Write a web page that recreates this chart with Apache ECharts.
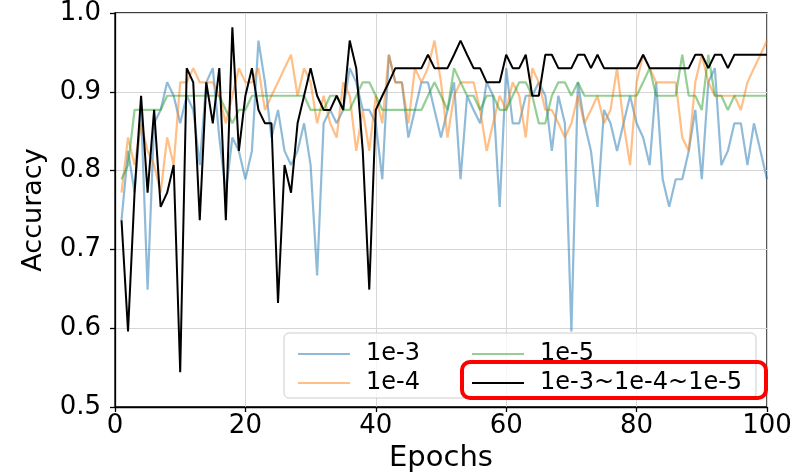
<!DOCTYPE html>
<html>
<head>
<meta charset="utf-8">
<script src="https://cdn.jsdelivr.net/npm/echarts@6/dist/echarts.min.js"></script>
<style>
html,body{margin:0;padding:0;background:#fff;}
#chart{width:799px;height:472px;}
</style>
</head>
<body>
<div id="chart"></div>
<script>
const epochs = [1,2,3,4,5,6,7,8,9,10,11,12,13,14,15,16,17,18,19,20,
21,22,23,24,25,26,27,28,29,30,31,32,33,34,35,36,37,38,39,40,
41,42,43,44,45,46,47,48,49,50,51,52,53,54,55,56,57,58,59,60,
61,62,63,64,65,66,67,68,69,70,71,72,73,74,75,76,77,78,79,80,
81,82,83,84,85,86,87,88,89,90,91,92,93,94,95,96,97,98,99,100];

const seriesNames = ['1e-3', '1e-4', '1e-5', '1e-3~1e-4~1e-5'];

const acc_1e3 = [
.737,.825,.772,.877,.649,.860,.877,.912,.895,.860,
.895,.877,.807,.912,.930,.842,.772,.842,.825,.789,
.825,.965,.912,.842,.877,.825,.807,.825,.860,.807,
.667,.860,.877,.860,.877,.930,.912,.877,.877,.860,
.789,.947,.912,.912,.842,.877,.912,.912,.877,.842,
.877,.912,.789,.895,.877,.860,.912,.895,.754,.930,
.860,.860,.895,.895,.912,.895,.825,.895,.860,.596,
.912,.860,.825,.754,.877,.860,.825,.860,.895,.860,
.842,.807,.912,.789,.754,.789,.789,.825,.877,.789,
.912,.930,.807,.825,.860,.860,.807,.860,.825,.789];

const acc_1e4 = [
.772,.842,.807,.860,.825,.807,.772,.842,.807,.912,
.912,.930,.912,.912,.912,.895,.860,.895,.930,.912,
.912,.930,.877,.895,.912,.930,.947,.895,.930,.912,
.860,.895,.860,.842,.912,.895,.825,.877,.825,.895,
.860,.947,.912,.912,.860,.930,.912,.930,.965,.912,
.842,.895,.912,.912,.912,.877,.825,.860,.895,.877,
.912,.895,.842,.930,.912,.877,.877,.860,.842,.860,
.895,.860,.877,.895,.860,.877,.930,.860,.807,.912,
.947,.930,.912,.912,.912,.912,.842,.825,.912,.947,
.912,.895,.895,.895,.895,.877,.912,.930,.947,.965];

const acc_1e5 = [
.789,.807,.877,.877,.877,.877,.877,.895,.895,.895,
.895,.895,.895,.895,.895,.895,.877,.860,.877,.877,
.895,.895,.895,.895,.895,.895,.895,.895,.895,.877,
.877,.877,.895,.895,.877,.877,.895,.912,.912,.895,
.877,.877,.877,.877,.877,.877,.877,.895,.912,.895,
.877,.930,.912,.895,.895,.877,.895,.895,.877,.877,
.895,.912,.912,.895,.860,.860,.895,.912,.912,.895,
.912,.895,.895,.895,.895,.895,.895,.895,.895,.895,
.912,.930,.895,.895,.895,.895,.947,.895,.895,.877,
.947,.895,.895,.877,.895,.895,.895,.895,.895,.895];

const acc_mix = [
.737,.596,.772,.895,.772,.877,.754,.772,.807,.544,
.930,.912,.737,.912,.860,.930,.737,.982,.825,.895,
.930,.877,.860,.860,.632,.807,.772,.860,.895,.930,
.895,.877,.877,.895,.877,.965,.930,.825,.649,.877,
.895,.912,.930,.930,.930,.930,.930,.947,.930,.930,
.930,.947,.965,.947,.930,.930,.912,.912,.912,.947,
.930,.930,.947,.895,.895,.947,.947,.930,.930,.930,
.947,.947,.930,.947,.930,.930,.930,.930,.930,.930,
.947,.930,.930,.930,.930,.930,.930,.930,.947,.947,
.930,.947,.947,.930,.947,.947,.947,.947,.947,.947];

const xTicks = [0, 20, 40, 60, 80, 100];
const yTicks = [0.5, 0.6, 0.7, 0.8, 0.9, 1.0];

const colors = ['#1f77b4', '#ff7f0e', '#2ca02c', '#000000'];
const legendColors = ['rgba(31,119,180,0.5)', 'rgba(255,127,14,0.5)', 'rgba(44,160,44,0.5)', '#000000'];
const opacities = [0.5, 0.5, 0.5, 1];
const allData = [acc_1e3, acc_1e4, acc_1e5, acc_mix];

const FONT = 'DejaVu Sans';

const series = allData.map((vals, i) => ({
  name: seriesNames[i],
  type: 'line',
  data: epochs.map((e, j) => [e, vals[j]]),
  symbol: 'none',
  showSymbol: false,
  animation: false,
  z: 2 + i * 0.01,
  lineStyle: { color: colors[i], width: i === 3 ? 2 : 2.2, opacity: opacities[i] },
  itemStyle: { color: colors[i], opacity: opacities[i] },
  emphasis: { disabled: true }
}));

const legendItem = i => ({ name: seriesNames[i], icon: 'rect', itemStyle: { color: legendColors[i], opacity: 1 } });

const legendCommon = {
  orient: 'vertical', itemWidth: 52, itemHeight: 2.2, itemGap: 5, selectedMode: false, z: 10,
  textStyle: { fontFamily: FONT, fontSize: 24, color: '#000', lineHeight: 24, padding: [0, 0, 0, 11] }
};

const chart = echarts.init(document.getElementById('chart'), null, { renderer: 'canvas' });
chart.setOption({
  animation: false,
  backgroundColor: '#ffffff',
  grid: { left: 115, right: 32, top: 13, bottom: 65, containLabel: false, outerBoundsMode: 'none',
          show: true, borderColor: '#000', borderWidth: 1.3, backgroundColor: 'transparent' },
  xAxis: {
    type: 'value', min: xTicks[0], max: xTicks[xTicks.length - 1], interval: 20,
    name: 'Epochs', nameLocation: 'middle', nameGap: 34,
    nameTextStyle: { fontFamily: FONT, fontSize: 29, color: '#000' },
    axisLine: { show: true, lineStyle: { color: '#000', width: 1.3 } },
    axisTick: { show: true, length: 5, lineStyle: { color: '#000', width: 1.3 } },
    axisLabel: { fontFamily: FONT, fontSize: 26, color: '#000', margin: 6 },
    splitLine: { show: true, lineStyle: { color: '#d6d6d6', width: 1 } }
  },
  yAxis: {
    type: 'value', min: yTicks[0], max: yTicks[yTicks.length - 1], interval: 0.1,
    name: 'Accuracy', nameLocation: 'middle', nameGap: 68, nameRotate: 90,
    nameTextStyle: { fontFamily: FONT, fontSize: 27, color: '#000' },
    axisLine: { show: true, lineStyle: { color: '#000', width: 1.3 } },
    axisTick: { show: true, length: 5, lineStyle: { color: '#000', width: 1.3 } },
    axisLabel: { fontFamily: FONT, fontSize: 26, color: '#000', margin: 14, formatter: v => v.toFixed(1) },
    splitLine: { show: true, lineStyle: { color: '#d6d6d6', width: 1 } }
  },
  legend: [
    Object.assign({}, legendCommon, { data: [legendItem(0), legendItem(1)], left: 293, top: 337 }),
    Object.assign({}, legendCommon, { data: [legendItem(2), legendItem(3)], left: 467, top: 337 })
  ],
  graphic: [
    { type: 'rect', z: 5, shape: { x: 284, y: 333, width: 472, height: 65, r: 5 },
      style: { fill: 'rgba(255,255,255,0.8)', stroke: '#cccccc', lineWidth: 1 } },
    { type: 'rect', z: 20, shape: { x: 462, y: 362, width: 304, height: 36, r: 8 },
      style: { fill: 'none', stroke: '#ff0000', lineWidth: 4 } }
  ],
  series: series
});
</script>
</body>
</html>
